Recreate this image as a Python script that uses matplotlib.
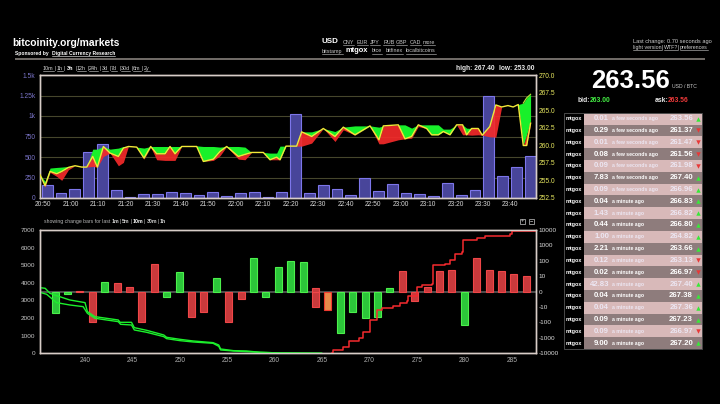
import matplotlib
matplotlib.use("Agg")
import matplotlib.pyplot as plt
from matplotlib.patches import Rectangle
from matplotlib.ticker import NullLocator
import numpy as np

plt.rcParams["font.family"] = ["Liberation Sans", "DejaVu Sans"]

# top chart: volume bars (one every 5 min)
volumes = [160, 60, 110, 565, 660, 95, 15, 50, 50, 75, 65, 35, 70, 30, 60, 75, 10, 75,
           1025, 60, 155, 115, 35, 245, 85, 175, 60, 45, 30, 180, 40, 95, 1245, 265, 375, 510]

# top chart: price in minutes after 20:50
price_t = [-1.1, 0.72, 2.54, 4.97, 6.78, 9.21, 11.63, 14.06, 15.88, 18.06, 19.75, 21.94, 24.36,
           27.39, 29.21, 31.03, 34.06, 36.72, 39.15, 41.33, 44.36, 46.18, 48, 50.42, 55.88, 58.3,
           61.94, 64.36, 66.79, 71.03, 73.45, 75.88, 80.12, 82.55, 84.97, 86.18, 88.36, 92.24,
           94.06, 97.7, 101.94, 106.18, 109.21, 113.45, 118.91, 122.18, 123.76, 129.21, 131.64,
           134.06, 136.48, 139.52, 141.33, 143.76, 145.58, 148, 150.42, 152.6, 154.06, 155.88,
           158.3, 159.76, 162.5, 164.7, 166.8, 169.1, 171, 172.85, 174.67, 175.9, 177.33]
price_line = [255.81, 254.25, 256.28, 255.95, 256.28, 256.85, 257.09, 256.9, 256.9, 258.41, 256.9,
              259.83, 258.89, 258.41, 259.6, 259.83, 259.74, 258.18, 259.83, 258.79, 258.79, 259.83,
              258.79, 259.83, 259.83, 257.7, 258.03, 259.12, 259.83, 258.41, 258.7, 258.98, 258.98,
              257.94, 258.31, 257.94, 259.88, 259.88, 261.91, 261.25, 262.39, 261.25, 262.58, 261.49,
              262.76, 260.78, 262.76, 262.91, 260.92, 261.25, 262.91, 262.39, 261.49, 261.49, 261.96,
              261.49, 262.91, 262.91, 261.49, 262.39, 262.39, 261.44, 262.67, 265.74, 265.45, 265.65,
              265.45, 265.8, 259.97, 259.97, 263.14]
price_high = [255.81, 254.87, 256.76, 256.85, 256.9, 256.99, 257.09, 256.9, 256.9, 259.45, 259.45,
              259.83, 259.45, 259.6, 259.83, 259.83, 259.74, 259.6, 259.83, 259.83, 259.83, 259.83,
              259.83, 259.83, 259.92, 259.83, 259.83, 259.74, 259.83, 259.83, 259.74, 258.98, 258.98,
              258.89, 258.89, 259.88, 259.88, 259.88, 261.91, 261.91, 262.39, 261.96, 262.58, 262.76,
              262.76, 262.58, 262.76, 262.91, 262.91, 262.44, 262.91, 262.91, 262.91, 262.91, 262.3,
              262.3, 262.91, 262.91, 262.44, 262.39, 262.39, 261.44, 262.67, 265.74, 265.45, 265.65,
              265.45, 265.8, 266.0, 266.75, 267.26]
price_low = [255.81, 254.06, 256.14, 255.57, 255.01, 256.52, 257.09, 256.9, 256.9, 256.99, 256.9,
             258.41, 258.89, 257.09, 257.56, 259.83, 259.74, 258.03, 259.74, 257.94, 257.85, 257.85,
             257.85, 259.83, 259.83, 257.7, 257.85, 258.51, 259.83, 258.03, 257.94, 258.98, 258.98,
             257.94, 257.94, 257.94, 259.88, 259.88, 259.88, 260.31, 262.39, 260.54, 262.2, 261.44,
             262.76, 260.21, 260.21, 260.78, 260.92, 261.01, 262.67, 262.39, 261.49, 261.49, 261.96,
             261.49, 262.91, 261.49, 261.49, 261.44, 261.49, 261.44, 261.2, 261.16, 265.45, 265.65,
             265.45, 265.8, 259.97, 259.97, 263.14]
# green/red boundary splits off the line at the very end
price_mid = price_line[:-2] + [261.49, 263.47]

time_labels = ["20:50", "21:00", "21:10", "21:20", "21:30", "21:40", "21:50", "22:00", "22:10",
               "22:20", "22:30", "22:40", "22:50", "23:00", "23:10", "23:20", "23:30", "23:40"]
vol_ticks = [0, 250, 500, 750, 1000, 1250, 1500]
vol_labels = ["0", "250", "500", "750", "1k", "1.25k", "1.5k"]
price_ticks = [252.5, 255, 257.5, 260, 262.5, 265, 267.5, 270]

# bottom chart: change bars
changes = [-25, -1.5, 0.7, -98, 6.5, 5.4, 3.2, -89, 59, -3.2, 20, -42, -20, 9, -89, -4.5, 145, -3.7,
           38, 100, 89, -10.5, -15.5, -457, -22, -54, -42, 2.6, 22, -6, 3, 22, 25, -145, 145, 25,
           22, 15, 11]
change_colors = ["g", "g", "r", "r", "g", "r", "r", "r", "r", "g", "g", "r", "r", "g", "r", "r", "g", "g",
                 "g", "g", "g", "r", "o", "g", "g", "g", "g", "g", "r", "r", "r", "r", "r", "g", "r", "r",
                 "r", "r", "r"]

# bottom chart: depth lines
bid_x = [235.25, 235.8, 236.3, 237.0, 238.4, 240, 240.25, 241.05, 243.5, 243.7, 244.9, 245.2, 246.5,
         248.3, 248.6, 250, 251.4, 253.5, 254.1, 254.3, 255.65, 257.05, 258.45, 260.55, 264.95]
bid_upper = [3727, 3690, 3406, 3273, 3027, 2876, 2365, 2081, 1892, 1760, 1760, 1457, 1305,
             1041, 908, 795, 700, 605, 473, 246, 151, 132, 57, 19, 0]
bid_lower_x = [235.25, 235.96, 236.66, 237.0, 238.4, 239.8, 240.25, 241.05, 243.5, 243.75, 244.9, 245.2,
               246.5, 248.3, 248.6, 250, 251.4, 253.5, 254.1, 254.3, 255.65, 258.45, 260.55, 264.95]
bid_lower = [3462, 3349, 3027, 2876, 2743, 2649, 2270, 1987, 1797, 1646, 1608, 1324, 1192,
             946, 832, 719, 643, 568, 397, 189, 132, 57, 19, 0]
ask_x = [266.02, 266.2, 267.25, 267.8, 268.85, 269.36, 270.06, 270.77, 271.3, 272.5, 273.2, 273.93,
         274.1, 274.8, 275.06, 275.5, 276.57, 276.67, 277.97, 278.5, 279.03, 279.73, 279.9, 281.3,
         282.2, 283.8, 284.83, 285.08, 287.57]
ask_y = [0, 189, 378, 700, 889, 1230, 1892, 2460, 2592, 2705, 2838, 2970, 3273, 3273, 3784, 3878,
         3954, 5014, 5052, 5298, 5619, 5771, 6433, 6565, 6640, 6678, 6792, 6943, 6981]
depth_ticks = list(range(0, 7001, 1000))
change_ticks = [-10000, -1000, -100, -10, 0, 10, 100, 1000, 10000]
change_labels = ["-10000", "-1000", "-100", "-10", "0", "10", "100", "1000", "10000"]

# trade list
trade_amounts = ["0.01", "0.29", "0.01", "0.08", "0.09", "7.83", "0.09", "0.04", "1.43", "0.44",
                 "1.00", "2.21", "0.12", "0.02", "42.83", "0.04", "0.04", "0.09", "0.09", "9.00"]
trade_prices = ["263.56", "261.37", "261.47", "261.56", "261.98", "267.40", "266.96", "266.83", "266.82",
                "266.80", "264.82", "263.66", "263.13", "266.97", "267.40", "267.38", "267.36", "267.23",
                "266.97", "267.20"]
trade_dirs = ["u", "d", "d", "d", "d", "u", "u", "u", "u", "u", "u", "u", "d", "d", "u", "u", "u", "u", "d", "u"]


def px_axes(fig, x0, y0, x1, y1):
    return fig.add_axes([x0 / 720, 1 - y1 / 404, (x1 - x0) / 720, (y1 - y0) / 404])


def style_box(ax, color="#d8cdc8"):
    ax.set_facecolor("none")
    for s in ax.spines.values():
        s.set_color(color)
        s.set_linewidth(1)


fig = plt.figure(figsize=(7.2, 4.04), dpi=100, facecolor="black")

# top chart
ax_vol = px_axes(fig, 39.5, 75, 536, 198)
style_box(ax_vol)
bar_t = 1.5 + 5.02 * np.arange(len(volumes))
ax_vol.bar(bar_t, volumes, width=3.9, color="#48459a", edgecolor="#7d76ea", linewidth=0.8, zorder=2)
ax_vol.set_xlim(-1.3, 179.3)
ax_vol.set_ylim(0, 1500)
ax_vol.set_yticks(vol_ticks, vol_labels)
ax_vol.set_xticks(np.arange(len(time_labels)) * 10, time_labels)
ax_vol.tick_params(axis="y", length=0, labelsize=4.8, labelcolor="#7a74c8", pad=3)
ax_vol.tick_params(axis="x", length=0, labelsize=4.8, labelcolor="#d8d8d8", pad=2)
ax_vol.yaxis.grid(True, color="#46462c", linewidth=0.8, zorder=0)
ax_vol.set_axisbelow(True)

ax_price = ax_vol.twinx()
style_box(ax_price)
ax_price.fill_between(price_t, price_mid, price_high, color="#18f02a", linewidth=0, zorder=3)
ax_price.fill_between(price_t, price_low, price_mid, color="#f52a2a", alpha=0.92, linewidth=0, zorder=3)
ax_price.plot(price_t, price_line, color="#f2e838", linewidth=1.0, zorder=4)
ax_price.plot(price_t[-3:], price_high[-3:], color="#b8e838", linewidth=0.8, zorder=4)
ax_price.set_ylim(252.5, 270)
ax_price.set_yticks(price_ticks, ["252.5", "255.0", "257.5", "260.0", "262.5", "265.0", "267.5", "270.0"])
ax_price.tick_params(axis="y", length=0, labelsize=4.8, labelcolor="#e8e860", pad=2)

# bottom chart
ax_change = px_axes(fig, 39.5, 230, 536, 353.3)
style_box(ax_change)
change_x = 236.84 + 1.308 * np.arange(len(changes))
fills = {"g": "#2cc63a", "r": "#c93a3c", "o": "#e88a4a"}
edges = {"g": "#4cf04c", "r": "#f04648", "o": "#f03a30"}
ax_change.set_yscale("symlog", linthresh=10, linscale=0.9)
ax_change.bar(change_x, changes, width=0.74, color=[fills[c] for c in change_colors],
              edgecolor=[edges[c] for c in change_colors], linewidth=0.8, zorder=2)
ax_change.bar(change_x[21], 2.6, width=0.74, color=fills["r"], edgecolor=edges["r"], linewidth=0.8, zorder=2)
ax_change.axhline(0, color="#5a5a5a", linewidth=1.2, zorder=1)
ax_change.set_xlim(235.2, 287.56)
ax_change.set_ylim(-10000, 10000)
ax_change.set_yticks(change_ticks, change_labels)
ax_change.yaxis.set_minor_locator(NullLocator())
ax_change.set_xticks(range(240, 286, 5))
ax_change.tick_params(axis="x", length=0, labelsize=4.8, labelcolor="#b0b0b0", pad=3)

ax_depth = ax_change.twinx()
style_box(ax_depth)
# twinx pushes the original axis to the left, so swap the sides back
ax_change.yaxis.tick_right()
ax_depth.yaxis.tick_left()
ax_change.tick_params(axis="y", length=0, labelsize=4.6, labelcolor="#dcdcdc", pad=2)
ax_depth.plot(bid_x, bid_upper, color="#1cf02c", linewidth=1.0)
ax_depth.plot(bid_lower_x, bid_lower, color="#1cf02c", linewidth=1.0)
ax_depth.plot(ask_x, ask_y, color="#f52a2e", linewidth=1.1, drawstyle="steps-post")
ax_depth.set_ylim(0, 7000)
ax_depth.set_yticks(depth_ticks)
ax_depth.tick_params(axis="y", length=0, labelsize=4.6, labelcolor="#c8c8c8", pad=3)

# page furniture, in pixel coordinates
page = px_axes(fig, 0, 0, 720, 404)
page.set_xlim(0, 720)
page.set_ylim(404, 0)
page.axis("off")
page.set_zorder(5)
renderer = fig.canvas.get_renderer()


def label(x, y, s, size=4.2, color="white", weight="normal", ha="left", link=False):
    t = page.text(x, y, s, fontsize=size, color=color, fontweight=weight, ha=ha, va="center")
    if link:
        e = t.get_window_extent(renderer)
        page.plot([e.x0, e.x1], [y + 2.6, y + 2.6], color=color, linewidth=0.4)
    return t


label(12.5, 43.5, "bitcoinity.org/markets", size=7.4, weight="bold")
label(15, 53.2, "Sponsored by", size=3.6, weight="bold")
label(51.5, 53.2, "Digital Currency Research", size=3.6, weight="bold", link=True)
page.add_patch(Rectangle((15, 58), 690, 2, color="#6f6a66", linewidth=0))

for x, s in zip([43, 57, 77, 89, 102, 111, 121, 133, 144], ["10m", "1h", "12h", "24h", "3d", "7d", "30d", "6m", "2y"]):
    label(x, 68.7, s, size=3.9, color="#d8d8d8", link=True)
label(66.7, 68.3, "3h", size=4, weight="bold")
for x in [54.5, 64, 75, 87, 99.5, 109, 119, 131, 142]:
    label(x, 68.7, "|", size=3.9, color="#c0c0c0")

label(322, 41.3, "USD", size=5.8, weight="bold")
for x, s in zip([342.5, 356.5, 370, 383, 396, 409.5, 423], ["CNY", "EUR", "JPY", "RUB", "GBP", "CAD", "more"]):
    label(x, 42, s, size=3.9, color="#c8c8c8", link=True)
for x, s in zip([322, 372, 386, 406], ["bitstamp", "btce", "bitfinex", "localbitcoins"]):
    label(x, 51, s, size=3.9, color="#c8c8c8", link=True)
label(346, 50.5, "mtgox", size=5.4, weight="bold")

label(456, 68.7, "high: 267.40", size=4.8, weight="bold", color="#e8e8e8")
label(499, 68.7, "low: 253.00", size=4.8, weight="bold", color="#e8e8e8")

label(43.5, 221.7, "showing change bars for last", size=3.7, color="#b8b8b8")
for x, s in zip([112, 122, 133, 146.5, 160], ["1m", "5m", "10m", "30m", "1h"]):
    label(x, 221.7, s, size=3.7, color="white" if s == "10m" else "#d0d0d0", weight="bold")
for x in [120, 130.5, 144, 157.5]:
    label(x, 221.7, "|", size=3.7, color="#c0c0c0")
for x, s in zip([522.5, 531.5], ["+", "\u2212"]):
    page.add_patch(Rectangle((x - 2.5, 218.5), 5, 5, facecolor="black", edgecolor="#c8c8c8", linewidth=0.5))
    page.text(x, 220.8, s, fontsize=4, color="#e0e0e0", ha="center", va="center")

label(633, 41, "Last change: 0.70 seconds ago", size=4.1, color="#d0d0d0")
label(633, 47.8, "light version", size=3.8, color="#d0d0d0", link=True)
label(661, 47.8, "|", size=3.8, color="#d0d0d0")
label(663.5, 47.8, "WTF?", size=3.8, color="#d0d0d0", link=True)
label(677, 47.8, "|", size=3.8, color="#d0d0d0")
label(680, 47.8, "preferences", size=3.8, color="#d0d0d0", link=True)

label(631, 80.5, "263.56", size=18.5, weight="bold", ha="center")
label(672, 87, "USD / BTC", size=3.7, color="#c8c8c8")
label(578, 100, "bid:", size=4.9, weight="bold", color="#e8e8e8")
label(590, 100, "263.00", size=4.9, weight="bold", color="#44f044")
label(655, 100, "ask:", size=4.9, weight="bold", color="#e8e8e8")
label(668, 100, "263.56", size=4.9, weight="bold", color="#f03a3a")

# trade table
row_h = 11.82
table_top = 112.7
for i, (amount, price, d) in enumerate(zip(trade_amounts, trade_prices, trade_dirs)):
    y = table_top + i * row_h
    mid = y + row_h / 2
    pink = i % 2 == 0
    page.add_patch(Rectangle((584, y), 118, row_h, color="#d8b9b9" if pink else "#8e7c7c", linewidth=0))
    text_color = "#ece6f2" if pink else "white"
    ago = "a few seconds ago" if i < 7 else "a minute ago"
    label(574, mid, "mtgox", size=3.9, weight="bold", ha="center")
    label(609, mid, amount, size=5.6, weight="bold", color=text_color, ha="right")
    label(612, mid, ago, size=3.7, weight="bold", color=text_color)
    label(693, mid, price, size=5.6, weight="bold", color=text_color, ha="right")
    if d == "u":
        page.plot(698, mid, marker="^", markersize=3.2, color="#38e838", markeredgewidth=0)
    else:
        page.plot(698, mid, marker="v", markersize=3.2, color="#e83838", markeredgewidth=0)
page.add_patch(Rectangle((564, table_top), 138, 20 * row_h, facecolor="none", edgecolor="#4a4a4a", linewidth=0.7))

fig.savefig("out.png", dpi=100)
